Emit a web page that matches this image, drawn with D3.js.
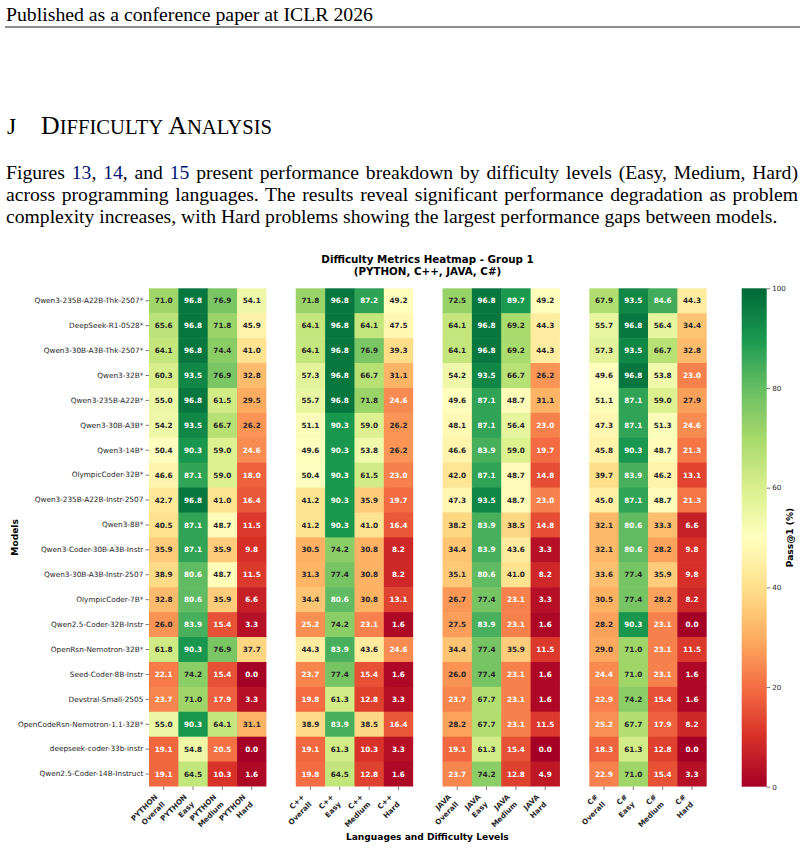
<!DOCTYPE html>
<html><head><meta charset="utf-8">
<script src="https://cdn.jsdelivr.net/npm/d3@7"></script>
<style>body{margin:0;background:#fff;} svg{display:block;}</style>
</head><body>
<svg id="c" width="804" height="848"></svg>
<script>
// ---------------- DATA ----------------
const models = [
  "Qwen3-235B-A22B-Thk-2507*","DeepSeek-R1-0528*","Qwen3-30B-A3B-Thk-2507*","Qwen3-32B*",
  "Qwen3-235B-A22B*","Qwen3-30B-A3B*","Qwen3-14B*","OlympicCoder-32B*",
  "Qwen3-235B-A22B-Instr-2507","Qwen3-8B*","Qwen3-Coder-30B-A3B-Instr","Qwen3-30B-A3B-Instr-2507",
  "OlympicCoder-7B*","Qwen2.5-Coder-32B-Instr","OpenRsn-Nemotron-32B*","Seed-Coder-8B-Instr",
  "Devstral-Small-2505","OpenCodeRsn-Nemotron-1.1-32B*","deepseek-coder-33b-instr","Qwen2.5-Coder-14B-Instruct"
];
const languages = ["PYTHON","C++","JAVA","C#"];
const levels = ["Overall","Easy","Medium","Hard"];
// rows follow `models`, columns follow `levels`
const pythonValues = [
  [71.0,96.8,76.9,54.1],[65.6,96.8,71.8,45.9],[64.1,96.8,74.4,41.0],[60.3,93.5,76.9,32.8],
  [55.0,96.8,61.5,29.5],[54.2,93.5,66.7,26.2],[50.4,90.3,59.0,24.6],[46.6,87.1,59.0,18.0],
  [42.7,96.8,41.0,16.4],[40.5,87.1,48.7,11.5],[35.9,87.1,35.9,9.8],[38.9,80.6,48.7,11.5],
  [32.8,80.6,35.9,6.6],[26.0,83.9,15.4,3.3],[61.8,90.3,76.9,37.7],[22.1,74.2,15.4,0.0],
  [23.7,71.0,17.9,3.3],[55.0,90.3,64.1,31.1],[19.1,54.8,20.5,0.0],[19.1,64.5,10.3,1.6]
];
const cppValues = [
  [71.8,96.8,87.2,49.2],[64.1,96.8,64.1,47.5],[64.1,96.8,76.9,39.3],[57.3,96.8,66.7,31.1],
  [55.7,96.8,71.8,24.6],[51.1,90.3,59.0,26.2],[49.6,90.3,53.8,26.2],[50.4,90.3,61.5,23.0],
  [41.2,90.3,35.9,19.7],[41.2,90.3,41.0,16.4],[30.5,74.2,30.8,8.2],[31.3,77.4,30.8,8.2],
  [34.4,80.6,30.8,13.1],[25.2,74.2,23.1,1.6],[44.3,83.9,43.6,24.6],[23.7,77.4,15.4,1.6],
  [19.8,61.3,12.8,3.3],[38.9,83.9,38.5,16.4],[19.1,61.3,10.3,3.3],[19.8,64.5,12.8,1.6]
];
const javaValues = [
  [72.5,96.8,89.7,49.2],[64.1,96.8,69.2,44.3],[64.1,96.8,69.2,44.3],[54.2,93.5,66.7,26.2],
  [49.6,87.1,48.7,31.1],[48.1,87.1,56.4,23.0],[46.6,83.9,59.0,19.7],[42.0,87.1,48.7,14.8],
  [47.3,93.5,48.7,23.0],[38.2,83.9,38.5,14.8],[34.4,83.9,43.6,3.3],[35.1,80.6,41.0,8.2],
  [26.7,77.4,23.1,3.3],[27.5,83.9,23.1,1.6],[34.4,77.4,35.9,11.5],[26.0,77.4,23.1,1.6],
  [23.7,67.7,23.1,1.6],[28.2,67.7,23.1,11.5],[19.1,61.3,15.4,0.0],[23.7,74.2,12.8,4.9]
];
const csharpValues = [
  [67.9,93.5,84.6,44.3],[55.7,96.8,56.4,34.4],[57.3,93.5,66.7,32.8],[49.6,96.8,53.8,23.0],
  [51.1,87.1,59.0,27.9],[47.3,87.1,51.3,24.6],[45.8,90.3,48.7,21.3],[39.7,83.9,46.2,13.1],
  [45.0,87.1,48.7,21.3],[32.1,80.6,33.3,6.6],[32.1,80.6,28.2,9.8],[33.6,77.4,35.9,9.8],
  [30.5,77.4,28.2,8.2],[28.2,90.3,23.1,0.0],[29.0,71.0,23.1,11.5],[24.4,71.0,23.1,1.6],
  [22.9,74.2,15.4,1.6],[25.2,67.7,17.9,8.2],[18.3,61.3,12.8,0.0],[22.9,71.0,15.4,3.3]
];
const colorTicks = [0,20,40,60,80,100];
const rdYlGnColors = ["#a50026","#d73027","#f46d43","#fdae61","#fee08b","#ffffbf","#d9ef8b","#a6d96a","#66bd63","#1a9850","#006837"];

const valuesByLang = {"PYTHON": pythonValues, "C++": cppValues, "JAVA": javaValues, "C#": csharpValues};

// ---------------- PAGE TEXT ----------------
const svg = d3.select("#c");
const serif = "'Liberation Serif','Times New Roman',Times,serif";
const sans = "'DejaVu Sans',sans-serif";
const ink = "#262626";

// uniformly size a text so that its width matches a target width
function fitFont(textSel, baseSize, targetW) {
  textSel.attr("font-size", baseSize);
  const w = textSel.node().getComputedTextLength();
  const s = baseSize * targetW / w;
  textSel.attr("font-size", s);
  return s;
}

// header
{
  const t = svg.append("text").attr("x",6).attr("y",20.5).attr("font-family",serif)
    .attr("fill","#000").text("Published as a conference paper at ICLR 2026");
  fitFont(t, 20, 367);
  svg.append("line").attr("x1",5).attr("x2",800).attr("y1",27).attr("y2",27)
    .attr("stroke","#000").attr("stroke-width",0.9);
}
// section heading
{
  svg.append("text").attr("x",7).attr("y",133.5).attr("font-family",serif).attr("font-size",23.5)
    .attr("fill","#000").text("J");
  const t = svg.append("text").attr("x",41).attr("y",133.5).attr("font-family",serif).attr("fill","#000");
  const big = 23.5, small = 18.8;
  t.append("tspan").attr("font-size",big).text("D");
  t.append("tspan").attr("font-size",small).text("IFFICULTY");
  t.append("tspan").attr("font-size",big).text(" A");
  t.append("tspan").attr("font-size",small).text("NALYSIS");
  const w = t.node().getComputedTextLength();
  const k = 231 / w;
  t.selectAll("tspan").attr("font-size", function(){ return +d3.select(this).attr("font-size") * k; });
}
// paragraph
{
  const blue = "rgb(0,20,115)";
  const lines = [
    {parts:[["Figures ",0],["13",1],[", ",0],["14",1],[", and ",0],["15",1],[" present performance breakdown by difficulty levels (Easy, Medium, Hard)",0]], y:178.5, w:792, justify:true},
    {parts:[["across programming languages. The results reveal significant performance degradation as problem",0]], y:200.8, w:792, justify:true},
    {parts:[["complexity increases, with Hard problems showing the largest performance gaps between models.",0]], y:223, w:772, justify:false}
  ];
  const texts = lines.map(L => {
    const t = svg.append("text").attr("x",6).attr("y",L.y).attr("font-family",serif).attr("fill","#000")
      .style("white-space","pre");
    L.parts.forEach(p => t.append("tspan").attr("fill", p[1] ? blue : "#000").text(p[0]));
    return t;
  });
  // font size from the last (unjustified) line
  const fsP = fitFont(texts[2], 20, lines[2].w);
  texts.forEach((t, i) => {
    t.attr("font-size", fsP);
    if (lines[i].justify) {
      const w = t.node().getComputedTextLength();
      const txt = lines[i].parts.map(p => p[0]).join("");
      const spaces = (txt.match(/ /g) || []).length;
      t.attr("word-spacing", (lines[i].w - w) / spaces);
    }
  });
}

// ---------------- CHART ----------------
const hmL = 149, hmR = 706.7, hmT = 288.3, hmB = 786.5;
const color = d3.scaleLinear().domain(d3.range(11).map(i => i*10)).range(rdYlGnColors).interpolate(d3.interpolateRgb).clamp(true);
const yS = d3.scaleBand().domain(models).range([hmT, hmB]).padding(0);
const gx = d3.scaleBand().domain(languages).range([hmL, hmR]).paddingInner(0.2).paddingOuter(0);
const cx = d3.scaleBand().domain(levels).range([0, gx.bandwidth()]).padding(0);

function lum(c) {
  const r = d3.rgb(c);
  const f = v => { v/=255; return v <= 0.03928 ? v/12.92 : Math.pow((v+0.055)/1.055, 2.4); };
  return 0.2126*f(r.r) + 0.7152*f(r.g) + 0.0722*f(r.b);
}

const cells = [];
languages.forEach(lang => {
  valuesByLang[lang].forEach((row, i) => {
    row.forEach((v, j) => cells.push({lang, model: models[i], level: levels[j], v}));
  });
});

const chart = svg.append("g");
chart.selectAll("rect.cell").data(cells).join("rect").attr("class","cell")
  .attr("x", d => gx(d.lang) + cx(d.level))
  .attr("y", d => yS(d.model))
  .attr("width", d => cx.bandwidth() + (d.level === "Hard" ? 0 : 0.6))
  .attr("height", d => yS.bandwidth() + (d.model === models[models.length-1] ? 0 : 0.6))
  .attr("fill", d => color(d.v));

chart.selectAll("text.val").data(cells).join("text").attr("class","val")
  .attr("x", d => gx(d.lang) + cx(d.level) + cx.bandwidth()/2)
  .attr("y", d => yS(d.model) + yS.bandwidth()/2)
  .attr("text-anchor","middle").attr("dy","0.36em")
  .attr("font-family",sans).attr("font-weight","bold").attr("font-size",7.3)
  .attr("fill", d => lum(color(d.v)) > 0.408 ? ink : "#ffffff")
  .text(d => d.v.toFixed(1));

// Y axis
const yAxis = svg.append("g").attr("transform",`translate(${hmL},0)`)
  .call(d3.axisLeft(yS).tickSize(3.5).tickPadding(2.2));
yAxis.select(".domain").remove();
yAxis.selectAll("line").attr("stroke",ink).attr("stroke-width",0.6);
yAxis.selectAll("text").attr("font-family",sans).attr("font-size",7.3).attr("fill",ink);

// X ticks & labels
const fs = 7.3, lh = 10.3;
const xt = svg.append("g");
languages.forEach(lang => {
  levels.forEach(level => {
    const tx = gx(lang) + cx(level) + cx.bandwidth()/2;
    xt.append("line").attr("x1",tx).attr("x2",tx).attr("y1",hmB).attr("y2",hmB+3.5)
      .attr("stroke",ink).attr("stroke-width",0.6);
    const g = xt.append("g").attr("transform",`translate(${tx - 5.6},${hmB + 10.9}) rotate(-45)`);
    const t = g.append("text").attr("font-family",sans).attr("font-weight","bold").attr("font-size",fs)
      .attr("fill",ink).attr("text-anchor","end");
    t.append("tspan").attr("x",0).attr("y",0).text(lang);
    t.append("tspan").attr("x",0).attr("y",lh).text(level);
  });
});

// Axis titles
svg.append("text").attr("x", (hmL+hmR)/2 - 0.5).attr("y", 840)
  .attr("text-anchor","middle").attr("font-family",sans).attr("font-weight","bold")
  .attr("font-size",9.1).attr("fill","#000").text("Languages and Difficulty Levels");
svg.append("text").attr("transform",`translate(17.5,${(hmT+hmB)/2}) rotate(-90)`)
  .attr("text-anchor","middle").attr("font-family",sans).attr("font-weight","bold")
  .attr("font-size",9.1).attr("fill","#000").text("Models");

// Title
svg.append("text").attr("x", 427.5).attr("y", 263).attr("text-anchor","middle")
  .attr("font-family",sans).attr("font-weight","bold").attr("font-size",10.3).attr("fill","#000")
  .text("Difficulty Metrics Heatmap - Group 1");
svg.append("text").attr("x", 427.5).attr("y", 275.3).attr("text-anchor","middle")
  .attr("font-family",sans).attr("font-weight","bold").attr("font-size",10.3).attr("fill","#000")
  .text("(PYTHON, C++, JAVA, C#)");

// Colorbar
const cbX = 741.7, cbW = 25, cbTop = 288.3, cbBot = 786.7;
const defs = svg.append("defs");
const grad = defs.append("linearGradient").attr("id","cbg").attr("x1",0).attr("x2",0).attr("y1",1).attr("y2",0);
d3.range(0, 101, 5).forEach(v => grad.append("stop").attr("offset", v/100).attr("stop-color", color(v)));
svg.append("rect").attr("x",cbX).attr("y",cbTop).attr("width",cbW).attr("height",cbBot-cbTop).attr("fill","url(#cbg)");
const cbScale = d3.scaleLinear().domain([0,100]).range([cbBot, cbTop]);
const cbAxis = svg.append("g").attr("transform",`translate(${cbX+cbW},0)`)
  .call(d3.axisRight(cbScale).tickValues(colorTicks).tickSize(3.5).tickPadding(2).tickFormat(d3.format("d")));
cbAxis.select(".domain").remove();
cbAxis.selectAll("line").attr("stroke",ink).attr("stroke-width",0.6);
cbAxis.selectAll("text").attr("font-family",sans).attr("font-size",7.2).attr("fill",ink);
svg.append("text").attr("transform",`translate(792.8,${(cbTop+cbBot)/2}) rotate(-90)`)
  .attr("text-anchor","middle").attr("font-family",sans).attr("font-weight","bold")
  .attr("font-size",9.1).attr("fill","#000").text("Pass@1 (%)");
</script>
</body></html>
